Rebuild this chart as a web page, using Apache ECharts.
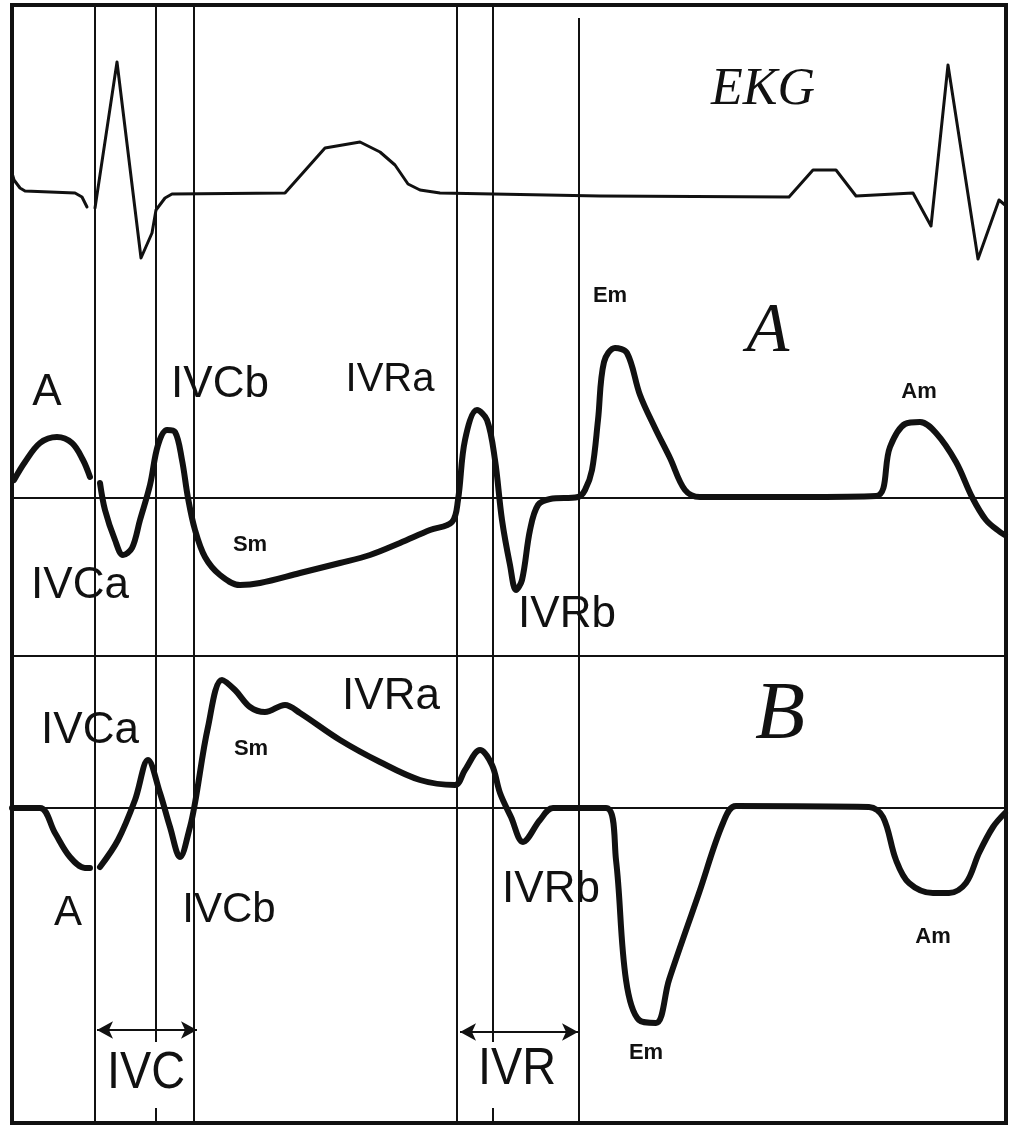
<!DOCTYPE html>
<html>
<head>
<meta charset="utf-8">
<script src="https://cdn.jsdelivr.net/npm/echarts@6/dist/echarts.min.js"></script>
<style>
html, body { margin: 0; padding: 0; background: #fff; }
#chart { width: 1012px; height: 1126px; }
</style>
</head>
<body>
<div id="chart"></div>
<script>
let myChart = echarts.init(document.getElementById('chart'))

// time runs left to right in arbitrary units, one shared axis for all traces
let ekgT = [0, 2, 8, 13, 38, 63, 70, 75, 79, 83, 105, 129, 140, 144, 153, 160, 273, 313, 348, 368, 383, 396, 408, 428, 588, 777, 801, 824, 844, 901, 919, 936, 966, 987, 993]
let ekgV = [20, 13, 5, 2, 1, 0, -4, -14, null, -15, 131, -65, -40, -17, -5, -1, 0, 45, 51, 41, 28, 9, 3, 0, -3, -4, 23, 23, -3, 0, -33, 128, -66, -7, -12]

// tissue doppler, recording A
let aT = [2, 13, 28, 45, 60, 71, 78, 82, 88, 93, 103, 111, 120, 128, 138, 146, 155, 163, 170, 176, 183, 193, 208, 228, 248, 288, 328, 358, 388, 418, 440, 446, 453, 465, 475, 483, 490, 498, 504, 510, 518, 526, 538, 566, 573, 580, 586, 592, 603, 615, 628, 643, 658, 673, 688, 788, 864, 878, 893, 908, 924, 944, 960, 974, 988, 993]
let aV = [18, 36, 55, 61, 55, 38, 21, null, 15, -12, -42, -57, -50, -22, 13, 53, 68, 66, 38, 0, -32, -59, -77, -87, -85, -75, -65, -57, -45, -32, -24, -2, 58, 88, 78, 38, -22, -67, -92, -82, -32, -7, -1, 1, 8, 28, 78, 136, 150, 145, 103, 70, 40, 8, 1, 1, 2, 51, 74, 76, 65, 36, 1, -22, -34, -37]

// tissue doppler, recording B
let bT = [0, 28, 43, 58, 73, 78, 82, 88, 106, 123, 136, 148, 158, 168, 178, 183, 196, 210, 223, 238, 253, 273, 288, 328, 368, 408, 443, 453, 468, 480, 488, 499, 511, 528, 541, 594, 604, 614, 627, 644, 657, 687, 711, 724, 857, 871, 884, 897, 921, 937, 954, 967, 981, 993]
let bV = [0, 0, -25, -49, -60, -60, null, -59, -32, 8, 48, 15, -19, -49, -19, 5, 81, 128, 118, 101, 96, 103, 95, 68, 46, 28, 23, 38, 58, 43, 15, -9, -34, -12, 0, 0, -52, -172, -212, -215, -172, -85, -15, 2, 1, -9, -52, -75, -85, -85, -75, -45, -19, -5]

// vertical event lines and the two isovolumic intervals
let phaseLines = [83, 144, 182, 445, 481, 567]
let ivc = [85, 185]
let ivr = [448, 566]

let ink = '#111'
let tMax = 994

function pairs(t, v) {
  return t.map((x, i) => [x, v[i] === null ? '-' : v[i]])
}

// y ranges of the three panels
let ekgRange = [-107, 188]
let aRange = [-158, 198]
let bRange = [-315, 152]

function vLines(range, opts) {
  opts = opts || {}
  let out = []
  phaseLines.forEach((x, i) => {
    let top = range[1]
    if (opts.lateTop !== undefined && i === phaseLines.length - 1) top = opts.lateTop
    if (opts.short && (i === 1 || i === 4)) {
      out.push([{ coord: [x, top] }, { coord: [x, opts.short] }])
      out.push([{ coord: [x, opts.tick] }, { coord: [x, range[0]] }])
    } else {
      out.push([{ coord: [x, top] }, { coord: [x, range[0]] }])
    }
  })
  return out
}

function arrow(span, y) {
  return [
    { coord: [span[0], y], symbol: 'arrow', symbolSize: [13, 16] },
    { coord: [span[1], y], symbol: 'arrow', symbolSize: [13, 16] }
  ]
}

let markBase = {
  silent: true,
  animation: false,
  symbol: ['none', 'none'],
  label: { show: false },
  emphasis: { disabled: true },
  lineStyle: { color: ink, width: 2, type: 'solid' }
}

let lineBase = {
  type: 'line',
  showSymbol: false,
  animation: false,
  connectNulls: false,
  silent: true
}

let label = (text, x, y, font, extra) => Object.assign({
  type: 'text', x: x, y: y,
  style: {
    text: text, font: font, fill: ink,
    textAlign: 'center', textVerticalAlign: 'middle',
    align: 'center', verticalAlign: 'middle'
  }
}, extra || {})

let sans = (s) => s + 'px "Liberation Sans", Arial, sans-serif'
let bold = (s) => 'bold ' + s + 'px "Liberation Sans", Arial, sans-serif'
let serif = (s) => 'italic ' + s + 'px "Liberation Serif", "Times New Roman", serif'

let option = {
  backgroundColor: '#fff',
  grid: [
    { left: 12, width: 994, top: 5, height: 295 },
    { left: 12, width: 994, top: 300, height: 356 },
    { left: 12, width: 994, top: 656, height: 467 }
  ],
  xAxis: [0, 1, 2].map(i => ({ type: 'value', gridIndex: i, min: 0, max: tMax, show: false })),
  yAxis: [ekgRange, aRange, bRange].map((r, i) => ({ type: 'value', gridIndex: i, min: r[0], max: r[1], show: false })),
  series: [
    Object.assign({}, lineBase, {
      name: 'EKG', xAxisIndex: 0, yAxisIndex: 0,
      data: pairs(ekgT, ekgV),
      lineStyle: { color: ink, width: 3, join: 'round', cap: 'round' },
      markLine: Object.assign({}, markBase, { data: vLines(ekgRange, { lateTop: 175 }) })
    }),
    Object.assign({}, lineBase, {
      name: 'A', xAxisIndex: 1, yAxisIndex: 1,
      data: pairs(aT, aV),
      smooth: 0.35,
      lineStyle: { color: ink, width: 6, join: 'round', cap: 'round' },
      markLine: Object.assign({}, markBase, {
        data: vLines(aRange).concat([{ yAxis: 0 }, { yAxis: aRange[0] }])
      })
    }),
    Object.assign({}, lineBase, {
      name: 'B', xAxisIndex: 2, yAxisIndex: 2,
      data: pairs(bT, bV),
      smooth: 0.35,
      lineStyle: { color: ink, width: 6, join: 'round', cap: 'round' },
      markLine: Object.assign({}, markBase, {
        data: vLines(bRange, { short: -234, tick: -300 }).concat([
          { yAxis: 0 },
          arrow(ivc, -222),
          arrow(ivr, -224)
        ])
      })
    })
  ],
  graphic: [
    { type: 'rect', shape: { x: 12, y: 5, width: 994, height: 1118 }, style: { fill: 'none', stroke: ink, lineWidth: 4 }, silent: true },
    label('EKG', 763, 90, serif(52)),
    label('A', 768, 333, serif(70)),
    label('B', 780, 716, serif(82)),
    // panel A
    label('A', 47, 393, sans(44)),
    label('IVCb', 220, 385, sans(44)),
    label('IVRa', 390, 380, sans(40)),
    label('IVCa', 80, 586, sans(44)),
    label('Sm', 250, 545, bold(22)),
    label('IVRb', 567, 615, sans(44)),
    label('Em', 610, 296, bold(22)),
    label('Am', 919, 392, bold(22)),
    // panel B
    label('IVCa', 90, 731, sans(44)),
    label('Sm', 251, 749, bold(22)),
    label('IVRa', 391, 697, sans(44)),
    label('A', 68, 913, sans(42)),
    label('IVCb', 229, 910, sans(42)),
    label('IVRb', 551, 890, sans(44)),
    label('Em', 646, 1053, bold(22)),
    label('Am', 933, 937, bold(22)),
    label('IVC', 146, 1074, sans(52), { scaleX: 0.9 }),
    label('IVR', 517, 1070, sans(52), { scaleX: 0.9 })
  ]
}

myChart.setOption(option)
</script>
</body>
</html>
